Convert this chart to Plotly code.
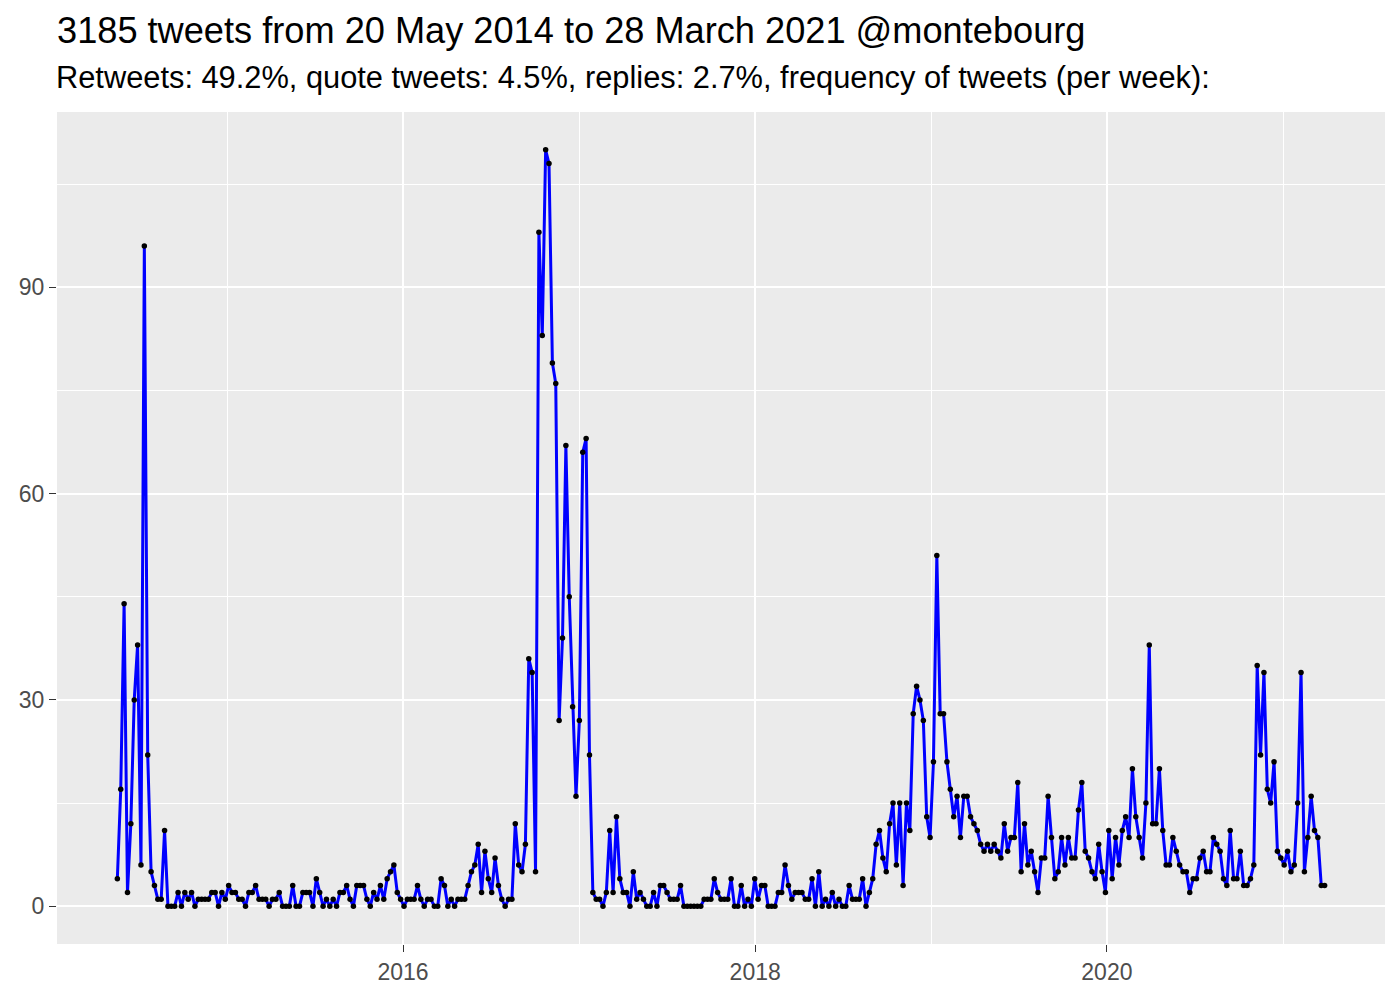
import plotly.graph_objects as go
import pandas as pd

# Weekly tweet counts, one value per week starting 18 May 2014
start_week = "2014-05-18"
counts = [
    4, 17, 44, 2, 12, 30, 38, 6, 96, 22, 5, 3, 1, 1, 11, 0, 0, 0,
    2, 0, 2, 1, 2, 0, 1, 1, 1, 1, 2, 2, 0, 2, 1, 3, 2, 2, 1, 1, 0, 2, 2, 3, 1, 1, 1, 0, 1, 1, 2, 0, 0, 0, 3, 0, 0,
    2, 2, 2, 0, 4,
    2, 0, 1, 0, 1, 0, 2, 2, 3, 1, 0, 3, 3, 3, 1, 0, 2, 1, 3, 1,
    4, 5, 6, 2, 1, 0, 1, 1, 1, 3, 1, 0, 1, 1, 0, 0, 4,
    3, 0, 1, 0, 1, 1, 1, 3, 5, 6, 9, 2, 8, 4, 2, 7, 3, 1, 0, 1, 1,
    12, 6, 5, 9, 36, 34, 5, 98, 83, 110, 108, 79, 76, 27, 39, 67, 45, 29, 16, 27, 66, 68, 22, 2, 1, 1, 0, 2, 11,
    2, 13,
    4, 2, 2, 0, 5, 1, 2, 1, 0, 0, 2, 0, 3, 3, 2, 1, 1, 1,
    3,
    0, 0, 0, 0, 0, 0,
    1, 1, 1, 4, 2, 1, 1, 1,
    4, 0, 0, 3, 0, 1, 0, 4, 1, 3, 3, 0, 0, 0, 2, 2, 6, 3, 1, 2, 2, 2, 1, 1, 4, 0, 5, 0, 1, 0, 2, 0, 1, 0, 0, 3, 1, 1, 1, 4, 0, 2, 4, 9, 11,
    7, 5, 12, 15, 6, 15, 3, 15, 11, 28, 32, 30, 27, 13, 10, 21, 51, 28, 28, 21, 17, 13, 16, 10, 16, 16, 13, 12, 11, 9, 8, 9,
    8, 9, 8, 7, 12, 8, 10, 10, 18, 5, 12, 6, 8, 5, 2, 7, 7, 16, 10, 4, 5, 10, 6, 10, 7, 7, 14, 18, 8, 7, 5, 4, 9, 5, 2, 11,
    4, 10, 6, 11, 13, 10, 20, 13, 10, 7, 15, 38, 12, 12, 20, 11, 6, 6, 10, 8, 6, 5, 5, 2, 4, 4, 7, 8, 5, 5, 10, 9, 8, 4, 3, 11,
    4, 4, 8, 3, 3, 4, 6, 35, 22, 34, 17, 15, 21, 8, 7, 6, 8, 5, 6, 15, 34, 5, 10, 16, 11, 10, 3, 3,
]

title_text = "3185 tweets from 20 May 2014 to 28 March 2021 @montebourg"
subtitle_text = "Retweets: 49.2%, quote tweets: 4.5%, replies: 2.7%, frequency of tweets (per week):"
y_ticks = [0, 30, 60, 90]
y_minor = [15, 45, 75, 105]
x_tick_years = ["2016-01-01", "2018-01-01", "2020-01-01"]
x_tick_labels = ["2016", "2018", "2020"]
x_minor_years = ["2014-01-01", "2015-01-01", "2017-01-01", "2019-01-01", "2021-01-01"]

weeks = pd.date_range(start_week, periods=len(counts), freq="7D")
span = weeks[-1] - weeks[0]
x_lo = weeks[0] - span * 0.05
x_hi = weeks[-1] + span * 0.05
y_span = max(counts) - 0
y_lo = 0 - 0.05 * y_span
y_hi = max(counts) + 0.05 * y_span

FONT = "Liberation Sans, Arial, Helvetica, sans-serif"
W, H = 1384, 984  # page body adds an 8px margin on each side
ML, MR, MT, MB = 49, 7, 104, 42
PW = W - ML - MR
PH = H - MT - MB

fig = go.Figure()
fig.add_trace(go.Scatter(
    x=weeks, y=counts, mode="lines",
    line=dict(color="blue", width=3),
    hoverinfo="skip",
))
fig.add_trace(go.Scatter(
    x=weeks, y=counts, mode="markers",
    marker=dict(color="black", size=5.5),
))

fig.update_layout(
    width=W, height=H,
    paper_bgcolor="white",
    plot_bgcolor="#EBEBEB",
    margin=dict(l=ML, r=MR, t=MT, b=MB),
    showlegend=False,
    font=dict(family=FONT, color="#4D4D4D"),
    title=dict(
        text=title_text,
        x=ML / W, xanchor="left",
        y=1 - 22 / H, yanchor="middle",
        font=dict(family=FONT, size=36.2, color="black"),
    ),
    annotations=[dict(
        text=subtitle_text,
        xref="paper", yref="paper",
        x=-3 / PW, xanchor="left",
        y=1 + (MT - 69) / PH, yanchor="middle",
        showarrow=False,
        font=dict(family=FONT, size=30.8, color="black"),
    )],
    xaxis=dict(
        type="date",
        range=[x_lo, x_hi],
        tickmode="array",
        tickvals=x_tick_years,
        ticktext=x_tick_labels,
        showgrid=True, gridcolor="white", gridwidth=2.2,
        minor=dict(
            tickmode="array",
            tickvals=x_minor_years,
            showgrid=True, gridcolor="white", gridwidth=1.1,
        ),
        ticks="outside", ticklen=7, tickwidth=1.4, tickcolor="#333333",
        tickfont=dict(family=FONT, size=23, color="#4D4D4D"),
        zeroline=False, showline=False,
    ),
    yaxis=dict(
        range=[y_lo, y_hi],
        tickmode="array",
        tickvals=y_ticks,
        showgrid=True, gridcolor="white", gridwidth=2.2,
        minor=dict(
            tickmode="array",
            tickvals=y_minor,
            showgrid=True, gridcolor="white", gridwidth=1.1,
        ),
        ticks="outside", ticklen=7, tickwidth=1.4, tickcolor="#333333",
        tickfont=dict(family=FONT, size=23, color="#4D4D4D"),
        zeroline=False, showline=False,
    ),
)

fig.write_html("out.html")
